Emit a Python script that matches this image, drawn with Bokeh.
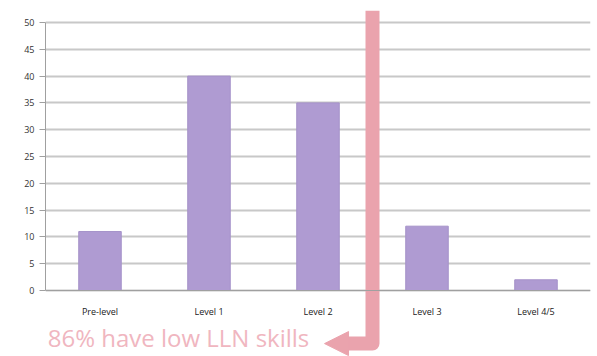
from bokeh.plotting import figure
from bokeh.models import Range1d, FactorRange, Label, Arrow, NormalHead
from bokeh.embed import file_html
from bokeh.resources import INLINE

categories = ["Pre-level", "Level 1", "Level 2", "Level 3", "Level 4/5"]
values = [11, 40, 35, 12, 2]
y_ticks = [0, 5, 10, 15, 20, 25, 30, 35, 40, 45, 50]
annotation = "86% have low LLN skills"

# frame spans the full height; 0 sits at y=290 px, 50 at y=22 px
p = figure(width=597, height=356, output_backend="svg", toolbar_location=None,
           x_range=FactorRange(*categories, range_padding=0), y_range=Range1d(-12.31, 54.1),
           min_border_left=45, min_border_right=7, min_border_top=0, min_border_bottom=0)
p.outline_line_color = None
p.background_fill_color = "white"
p.border_fill_color = "white"

p.vbar(x=categories, top=values, width=0.39, fill_color="#af9bd2", line_color="#a592c9", line_width=1)

p.yaxis.ticker = y_ticks
p.yaxis.bounds = (0, 50)
p.yaxis.axis_line_color = "#a0a0a0"
p.yaxis.major_tick_line_color = "#a0a0a0"
p.yaxis.major_tick_out = 6
p.yaxis.major_tick_in = 0
p.yaxis.minor_tick_line_color = None
p.yaxis.major_label_standoff = 5
p.yaxis.major_label_text_font = "Open Sans"
p.yaxis.major_label_text_font_size = "9px"
p.yaxis.major_label_text_color = "#333333"

p.xaxis.fixed_location = 0
p.xaxis.axis_line_color = "#a0a0a0"
p.xaxis.major_tick_line_color = None
p.xaxis.major_label_standoff = 8
p.xaxis.major_label_text_font = "Open Sans"
p.xaxis.major_label_text_font_size = "9px"
p.xaxis.major_label_text_color = "#222222"

p.xgrid.grid_line_color = None
p.ygrid.ticker = y_ticks
p.ygrid.grid_line_color = "#c8c8c8"
p.ygrid.grid_line_width = 2

pink = "#eaa3ad"
# L-shaped arrow: down along the Level 2 / Level 3 boundary, then left
p.line(x=[3.0, 3.0, 2.74], y=[52.2, -9.9, -9.9], line_color=pink, line_width=14,
       line_join="round", line_cap="butt")
p.add_layout(Arrow(x_start=2.76, y_start=-9.9, x_end=2.56, y_end=-9.9,
                   end=NormalHead(size=24, fill_color=pink, line_color=pink),
                   line_color=pink, line_width=14, line_cap="butt"))

p.add_layout(Label(x=0.02, y=-8.8, text=annotation, text_font="Open Sans",
                   text_font_size="24px", text_color="#f0b6c0", text_baseline="middle"))

open("out.html", "w").write(file_html(p, INLINE))
